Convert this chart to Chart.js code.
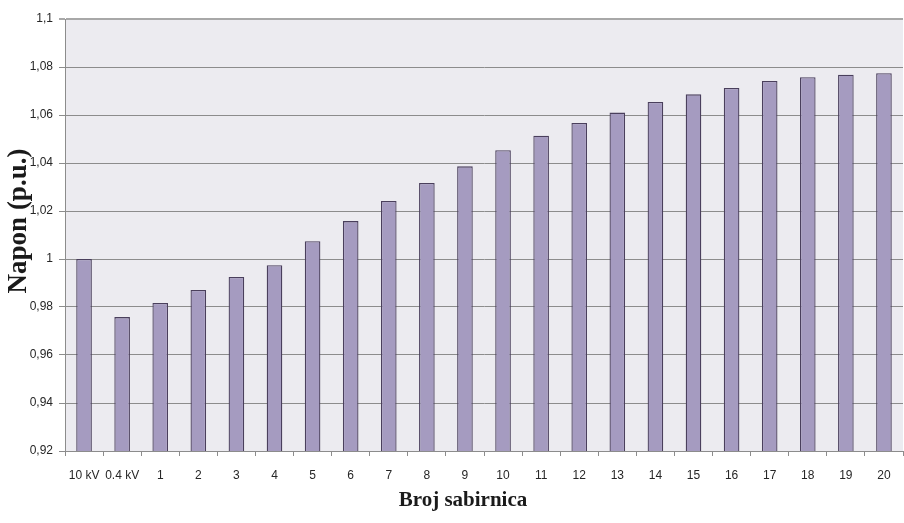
<!DOCTYPE html>
<html>
<head>
<meta charset="utf-8">
<script src="https://cdn.jsdelivr.net/npm/chart.js@4/dist/chart.umd.min.js"></script>
<style>
    html, body { margin: 0; padding: 0; background: #fff; overflow: hidden; }
</style>
</head>
<body>
<canvas id="chart" width="904" height="523"></canvas>
<script>
// bus labels and voltage per bus (p.u.)
const categories = ['10 kV', '0.4 kV', '1', '2', '3', '4', '5', '6', '7', '8', '9', '10',
    '11', '12', '13', '14', '15', '16', '17', '18', '19', '20'];
const napon = [1.0, 0.9758, 0.9817, 0.9871, 0.9925, 0.9974, 1.0074, 1.0158, 1.0242, 1.0317, 1.0386,
    1.0453, 1.0514, 1.0567, 1.061, 1.0654, 1.0686, 1.0713, 1.0742, 1.0757, 1.0768, 1.0774];
const yMin = 0.92, yMax = 1.1, yStep = 0.02;
const xTitle = 'Broj sabirnica';
const yTitle = 'Napon (p.u.)';

// comma decimal, no trailing zeros: 1,08 / 1 / 0,92
const fmtTick = (v) => String(Math.round(v * 100) / 100).replace('.', ',');

// fill plot area + draw both axis titles (the original has them off-centre)
const plotBg = {
    id: 'plotBg',
    beforeDraw: (chart) => {
        const { ctx, chartArea: a } = chart;
        ctx.save();
        ctx.fillStyle = '#ecebf0';
        ctx.fillRect(a.left, a.top, a.right - a.left, a.bottom - a.top);
        ctx.restore();
    },
    afterDraw: (chart) => {
        const ctx = chart.ctx;
        ctx.save();
        ctx.fillStyle = '#1a1a1a';
        ctx.textAlign = 'center';
        ctx.textBaseline = 'middle';
        ctx.font = 'bold 21px "Liberation Serif"';
        ctx.fillText(xTitle, 463, 501);
        ctx.translate(19, 221);
        ctx.rotate(-Math.PI / 2);
        ctx.font = 'bold 27px "Liberation Serif"';
        ctx.fillText(yTitle, 0, 0);
        ctx.restore();
    }
};

new Chart(document.getElementById('chart').getContext('2d'), {
    type: 'bar',
    data: {
        labels: categories,
        datasets: [{
            data: napon,
            backgroundColor: '#a59bc0',
            borderColor: '#4a3f5c',
            borderWidth: 1.3,
            borderSkipped: 'bottom',
            barPercentage: 0.82,
            categoryPercentage: 0.5,
        }]
    },
    options: {
        responsive: false,
        animation: false,
        layout: { padding: { top: 19, right: 1, left: 0, bottom: 0 } },
        plugins: {
            legend: { display: false },
            tooltip: { enabled: false },
        },
        scales: {
            x: {
                offset: true,
                grid: {
                    display: true,
                    drawOnChartArea: false,
                    offset: true,
                    tickLength: 5,
                    color: '#8c8c8c',
                },
                border: { color: '#8c8c8c' },
                ticks: {
                    color: '#262626',
                    font: { family: '"Liberation Sans"', size: 12 },
                    padding: 12,
                    maxRotation: 0,
                    autoSkip: false,
                },
                afterFit: (scale) => { scale.height = 72; },
            },
            y: {
                min: yMin,
                max: yMax,
                ticks: {
                    stepSize: yStep,
                    color: '#262626',
                    font: { family: '"Liberation Sans"', size: 12 },
                    padding: 6,
                    callback: (v) => fmtTick(v),
                },
                grid: {
                    color: (ctx) => ctx.tick && Math.abs(ctx.tick.value - yMax) < 1e-6 ? '#a8a8a8' : '#8c8c8c',
                    lineWidth: (ctx) => ctx.tick && Math.abs(ctx.tick.value - yMax) < 1e-6 ? 2 : 1,
                    tickLength: 6,
                },
                border: { color: '#8c8c8c' },
                afterFit: (scale) => { scale.width = 65; },
            },
        },
    },
    plugins: [plotBg],
});
</script>
</body>
</html>
